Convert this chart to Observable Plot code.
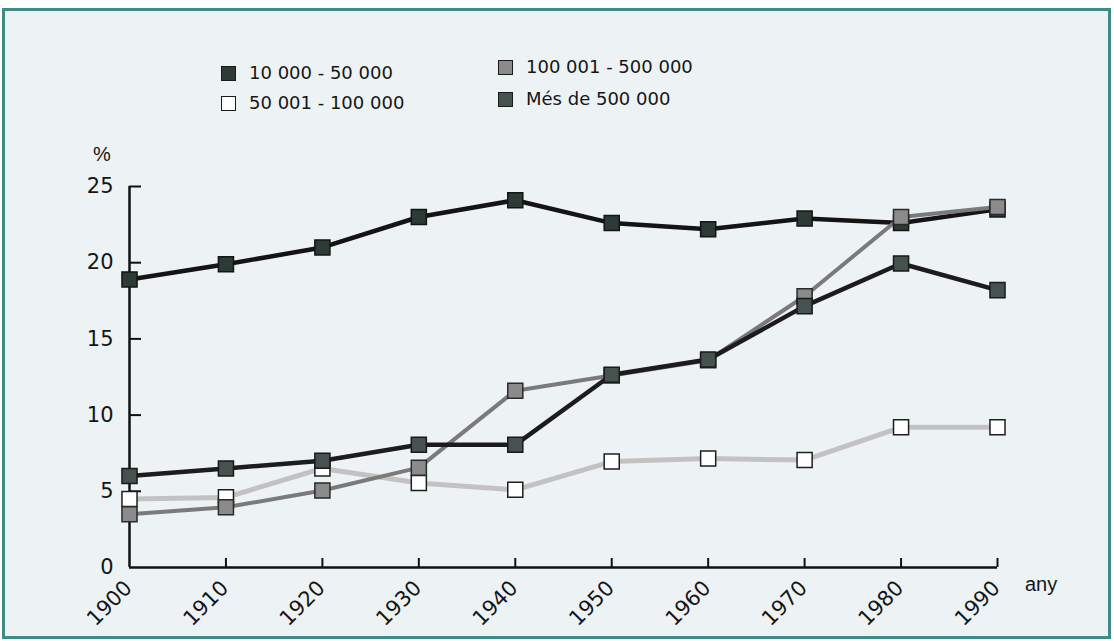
<!DOCTYPE html>
<html><head><meta charset="utf-8">
<script src="https://cdn.jsdelivr.net/npm/d3@7"></script>
<script src="https://cdn.jsdelivr.net/npm/@observablehq/plot@0.6"></script>
<style>
body{margin:0;background:#fff;width:1114px;height:641px;overflow:hidden;position:relative;font-family:"DejaVu Sans",sans-serif;}
#frame{position:absolute;left:2px;top:8px;width:1109px;height:631px;box-sizing:border-box;border:3px solid #3f8c86;background:#edf3f4;}
#chart{position:absolute;left:0;top:0;}
.leg{position:absolute;display:flex;align-items:center;font-size:18px;line-height:22px;color:#151515;white-space:nowrap;}
.sw{width:13px;height:13px;border:1px solid #1a1a1a;margin-right:13px;flex:none;}
.lbl{position:absolute;font-family:"Liberation Sans",Arial,sans-serif;font-size:20px;color:#151515;line-height:22px;}
</style></head>
<body>
<div id="frame"></div>
<div id="chart"></div>
<div class="lbl" style="left:93px;top:143px;">%</div>
<div class="lbl" style="left:1025px;top:573px;">any</div>
<script>
const years = [1900, 1910, 1920, 1930, 1940, 1950, 1960, 1970, 1980, 1990];
const seriesNames = ["10 000 - 50 000", "50 001 - 100 000", "100 001 - 500 000", "Més de 500 000"];
const s10_50   = [18.9, 19.9, 21.0, 23.0, 24.1, 22.6, 22.2, 22.9, 22.6, 23.5];
const s50_100  = [4.5, 4.6, 6.5, 5.55, 5.1, 6.95, 7.15, 7.05, 9.2, 9.2];
const s100_500 = [3.5, 3.95, 5.05, 6.55, 11.6, 12.6, 13.6, 17.8, 23.0, 23.65];
const sMes     = [6.0, 6.5, 7.0, 8.05, 8.05, 12.65, 13.65, 17.15, 19.95, 18.2];
const yTicks = [0, 5, 10, 15, 20, 25];
const xTicks = years;

const styles = {
  "10 000 - 50 000":   {line: "#141414", width: 4.5, fill: "#2d3b36", stroke: "#141414"},
  "50 001 - 100 000":  {line: "#c2c2c2", width: 5,   fill: "#ffffff", stroke: "#1e1e1e"},
  "100 001 - 500 000": {line: "#7a7a7a", width: 4,   fill: "#8b8b8b", stroke: "#2a2a2a"},
  "Més de 500 000":    {line: "#1c1c1c", width: 4.5, fill: "#45524d", stroke: "#1a1a1a"}
};
const valuesBy = {
  "10 000 - 50 000": s10_50,
  "50 001 - 100 000": s50_100,
  "100 001 - 500 000": s100_500,
  "Més de 500 000": sMes
};
const rows = name => years.map((y, i) => ({year: y, value: valuesBy[name][i], series: name}));
const drawOrder = ["50 001 - 100 000", "10 000 - 50 000", "100 001 - 500 000", "Més de 500 000"];

const W = 1114, H = 641, mL = 129, mR = 117, mT = 186, mB = 74;
const innerW = W - mL - mR, innerH = H - mT - mB;

const marks = [
  Plot.ruleX([1900], {stroke: "#111", strokeWidth: 2.5}),
  Plot.ruleY([0], {stroke: "#111", strokeWidth: 2.5}),
  Plot.tickY(yTicks.slice(1), {y: d => d, stroke: "#111", strokeWidth: 2, insetRight: innerW - 12}),
  Plot.tickX(xTicks.slice(1), {x: d => d, stroke: "#111", strokeWidth: 2, insetTop: innerH - 9}),
  Plot.text(yTicks, {y: d => d, text: d => String(d), frameAnchor: "left", dx: -16, textAnchor: "end", lineAnchor: "middle", fontSize: 21, fill: "#151515"}),
  Plot.text(xTicks, {x: d => d, text: d => String(d), frameAnchor: "bottom", dx: -1, dy: 17, rotate: -45, textAnchor: "end", lineAnchor: "middle", fontSize: 21, fill: "#151515"})
];
for (const name of drawOrder) {
  const s = styles[name];
  marks.push(Plot.line(rows(name), {x: "year", y: "value", stroke: s.line, strokeWidth: s.width, strokeLinejoin: "round"}));
}
for (const name of drawOrder) {
  const s = styles[name];
  marks.push(Plot.dot(rows(name), {x: "year", y: "value", symbol: "square", r: 8.5, fill: s.fill, stroke: s.stroke, strokeWidth: 1.5}));
}

const chart = Plot.plot({
  width: W, height: H,
  marginLeft: mL, marginRight: mR, marginTop: mT, marginBottom: mB,
  x: {domain: [1900, 1990], axis: null},
  y: {domain: [0, 25], axis: null},
  style: {background: "transparent", fontFamily: "DejaVu Sans, sans-serif", fontSize: "20px", color: "#151515", overflow: "visible"},
  marks
});
document.getElementById("chart").appendChild(chart);

// legend
const legendPos = [
  {name: seriesNames[0], left: 221, top: 62},
  {name: seriesNames[1], left: 221, top: 92},
  {name: seriesNames[2], left: 498, top: 56},
  {name: seriesNames[3], left: 498, top: 88}
];
for (const p of legendPos) {
  const d = document.createElement("div");
  d.className = "leg";
  d.style.left = p.left + "px";
  d.style.top = p.top + "px";
  const sw = document.createElement("span");
  sw.className = "sw";
  sw.style.background = styles[p.name].fill;
  const t = document.createElement("span");
  t.textContent = p.name;
  d.appendChild(sw); d.appendChild(t);
  document.body.appendChild(d);
}
</script>
</body></html>
